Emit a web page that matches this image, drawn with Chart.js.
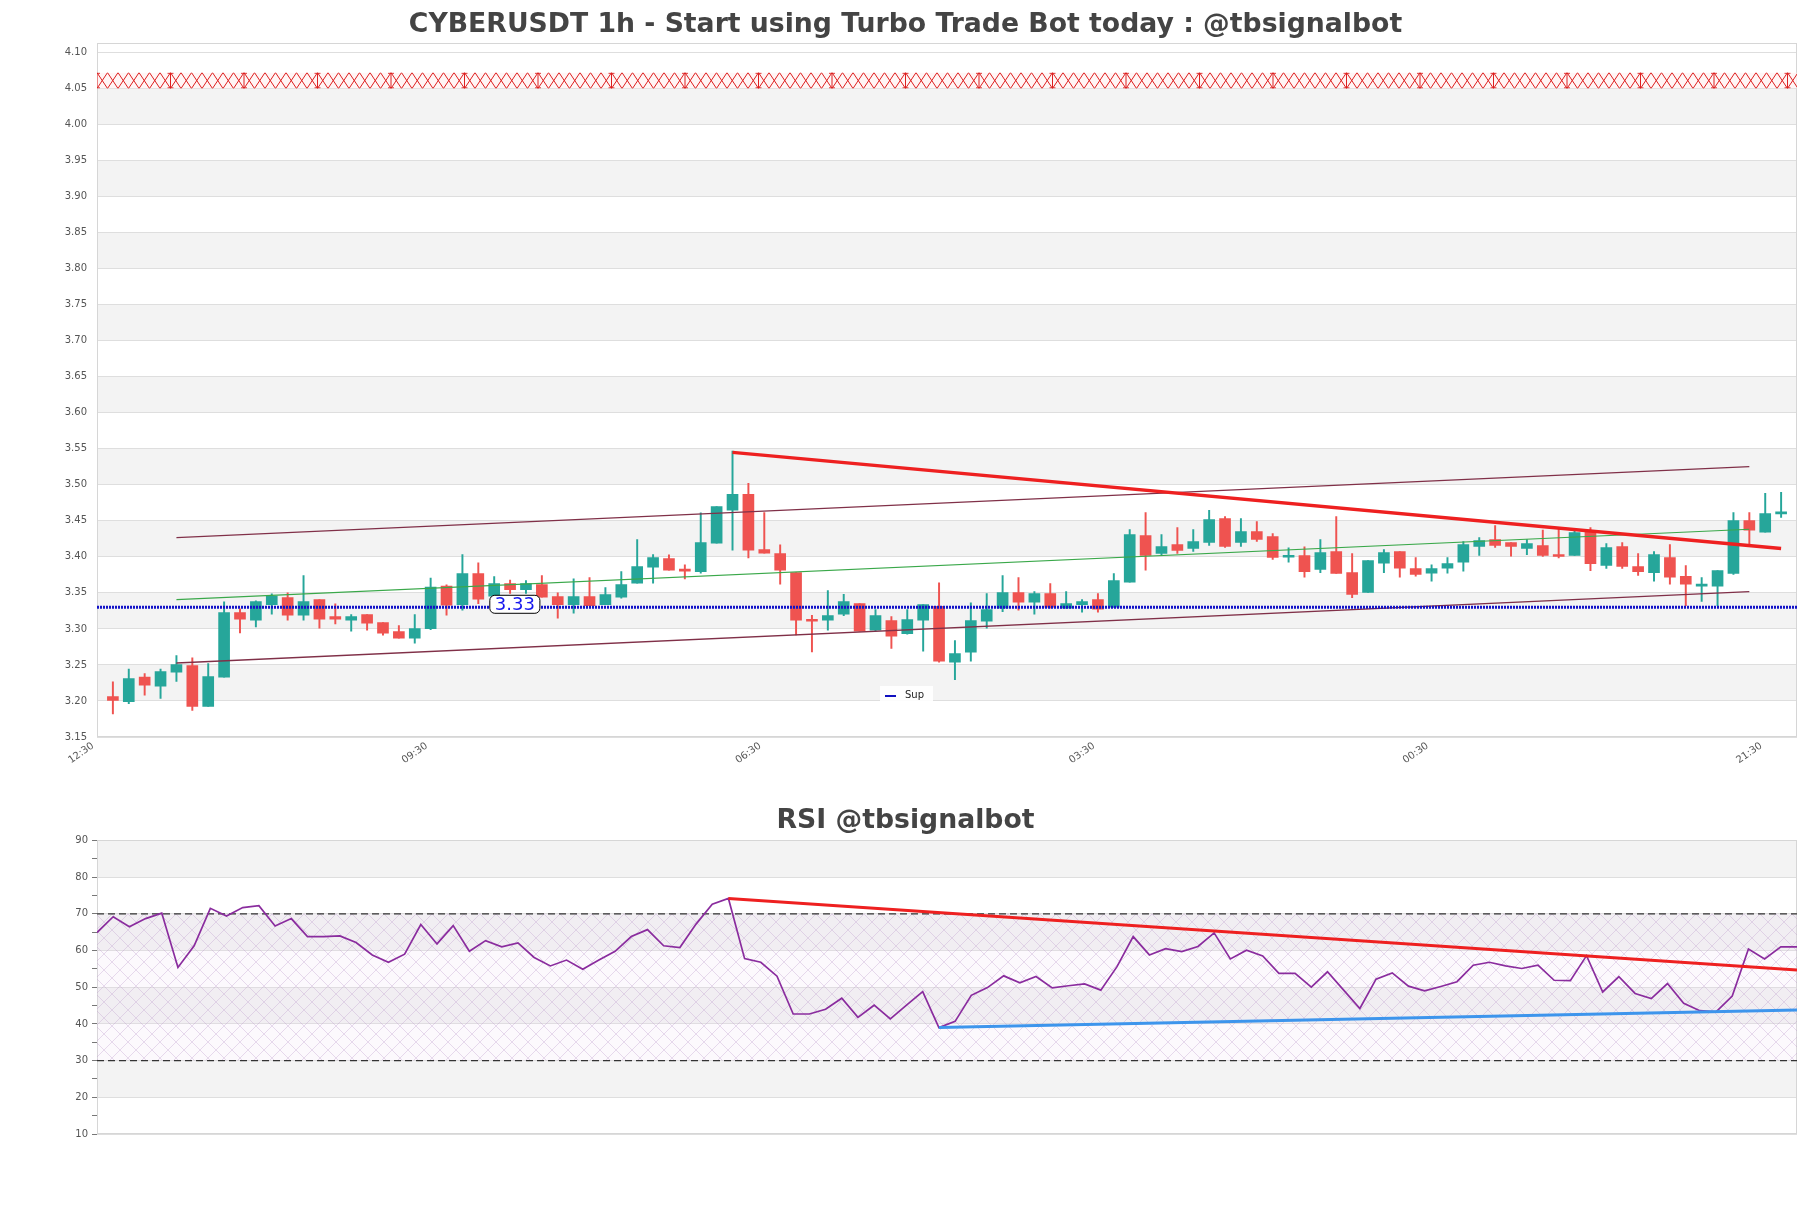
<!DOCTYPE html>
<html><head><meta charset="utf-8">
<script src="https://cdn.jsdelivr.net/npm/chart.js@4.4.1/dist/chart.umd.min.js"></script>
<style>
html,body{margin:0;padding:0;background:#fff;}
#top{position:absolute;left:0;top:0;width:1811px;height:770px;}
#bot{position:absolute;left:0;top:770px;width:1811px;height:438px;}
</style></head><body>
<div id="top"><canvas id="c1"></canvas></div>
<div id="bot"><canvas id="c2"></canvas></div>
<script>
// ---------------- data ----------------
const xTickPos = [-1, 20, 41, 62, 83, 104];
const xTickLabels = ['12:30', '09:30', '06:30', '03:30', '00:30', '21:30'];
const priceTicks = [3.15,3.20,3.25,3.30,3.35,3.40,3.45,3.50,3.55,3.60,3.65,3.70,3.75,3.80,3.85,3.90,3.95,4.00,4.05,4.10];

const opens = [3.206,3.1991,3.2333,3.2204,3.2398,3.2491,3.1926,3.2329,3.3227,3.312,
3.3338,3.3435,3.319,3.3407,3.3171,3.312,3.3199,3.3088,3.2963,3.287,
3.3005,3.3593,3.3338,3.3769,3.3454,3.363,3.3546,3.3616,3.3449,3.3338,
3.3449,3.3338,3.344,3.3634,3.3856,3.3977,3.3824,3.3796,3.419,3.4648,
3.4866,3.4102,3.4046,3.3782,3.313,3.312,3.3204,3.3352,3.2981,3.3116,
3.2935,3.312,3.3315,3.2537,3.2676,3.3106,3.3287,3.3505,3.337,3.3491,
3.3287,3.3338,3.3407,3.3301,3.3648,3.4296,3.4046,3.4171,3.4116,3.4199,
3.4532,3.4199,3.4352,3.4282,3.3995,3.4019,3.3824,3.4074,3.3782,3.3505,
3.3912,3.4074,3.3838,3.3773,3.3843,3.3926,3.4144,3.4241,3.4199,3.4116,
3.4157,3.4032,3.4019,3.4366,3.388,3.4144,3.3866,3.3782,3.3991,3.3731,
3.3593,3.3593,3.3769,3.4505,3.4343,3.4597];
const highs = [3.2264,3.2444,3.238,3.2444,3.263,3.2597,3.2519,3.3375,3.3278,3.3389,
3.3486,3.35,3.3741,3.3407,3.3347,3.3199,3.3199,3.3088,3.3046,3.3199,
3.3704,3.3611,3.4032,3.3917,3.3727,3.3676,3.3671,3.3741,3.35,3.3694,
3.3713,3.3574,3.3796,3.4241,3.4032,3.4028,3.3889,3.4611,3.4699,3.5468,
3.5019,3.4616,3.4167,3.3782,3.319,3.3532,3.3481,3.3352,3.3269,3.3171,
3.3269,3.3338,3.3639,3.2838,3.3361,3.3491,3.3741,3.3713,3.3519,3.363,
3.3519,3.3407,3.3491,3.3769,3.438,3.4616,3.431,3.4407,3.438,3.4644,
3.456,3.4532,3.4491,3.4324,3.4125,3.4139,3.4241,3.456,3.4046,3.3949,
3.4102,3.4074,3.3991,3.3889,3.3991,3.4213,3.4269,3.4435,3.4199,3.4241,
3.437,3.4389,3.437,3.4407,3.4185,3.4199,3.4046,3.4074,3.4171,3.388,
3.3713,3.381,3.4616,3.4616,3.488,3.4894];
const lows = [3.1819,3.1963,3.2079,3.2037,3.2273,3.187,3.1926,3.2329,3.2944,3.3028,
3.3204,3.312,3.312,3.3009,3.3069,3.2968,3.2981,3.2912,3.287,3.2801,
3.2991,3.319,3.3259,3.3352,3.338,3.3491,3.3491,3.344,3.3148,3.3218,
3.3324,3.3338,3.3426,3.3634,3.3634,3.3815,3.3694,3.3773,3.419,3.4093,
3.3986,3.4051,3.362,3.2917,3.2681,3.2981,3.3185,3.2968,3.2968,3.2731,
3.2926,3.269,3.2537,3.2296,3.2551,3.3009,3.3241,3.3259,3.3204,3.3287,
3.3287,3.3231,3.3231,3.3301,3.3648,3.3815,3.4032,3.4046,3.4074,3.4157,
3.413,3.4144,3.4213,3.3963,3.3926,3.3718,3.3782,3.3769,3.3435,3.3505,
3.3782,3.3718,3.3731,3.3662,3.3773,3.3801,3.4019,3.413,3.4009,3.4032,
3.4005,3.3986,3.4019,3.381,3.3838,3.3838,3.3741,3.3662,3.362,3.3324,
3.338,3.3324,3.3755,3.4157,3.4343,3.4546];
const closes = [3.2009,3.231,3.2218,3.2407,3.2505,3.1926,3.2338,3.3227,3.3134,3.338,
3.3454,3.319,3.338,3.3134,3.3134,3.3171,3.3079,3.294,3.287,3.3005,
3.3579,3.3329,3.3769,3.3412,3.363,3.3546,3.363,3.344,3.3338,3.3449,
3.3324,3.3477,3.3616,3.3866,3.3991,3.3815,3.3801,3.4199,3.4699,3.4866,
3.4093,3.4051,3.3815,3.312,3.3106,3.3185,3.338,3.2968,3.3185,3.2898,
3.313,3.3338,3.2551,3.2657,3.3116,3.3269,3.3505,3.337,3.3491,3.3301,
3.3352,3.338,3.3273,3.3671,3.431,3.4019,3.4144,3.4088,3.4213,3.4519,
3.4144,3.4352,3.4241,3.3991,3.4005,3.3796,3.406,3.3769,3.3477,3.3949,
3.406,3.3843,3.3755,3.3838,3.3907,3.4171,3.4227,3.4157,3.4144,3.4185,
3.4019,3.4005,3.4338,3.3907,3.413,3.3866,3.3796,3.4032,3.3718,3.362,
3.3606,3.381,3.4505,3.437,3.4602,3.4606];

const supLevel = 3.33;
const resZone = [4.05, 4.072];
const resTrend = [[39, 3.545], [105, 3.4115]];
const chanUpper = [[4, 3.4268], [103, 3.5253]];
const chanMid = [[4, 3.3407], [103, 3.4383]];
const chanLower = [[4, 3.2527], [103, 3.3518]];

const rsiValues = [64.9,69.2,66.5,68.7,70.2,55.4,61.3,71.5,69.4,71.7,
72.2,66.7,68.7,63.8,63.8,64.0,62.2,58.8,56.8,59.0,
67.1,61.8,66.8,59.8,62.7,61.0,62.1,58.1,55.8,57.4,
54.9,57.4,59.8,63.8,65.7,61.3,60.8,67.2,72.6,74.2,
57.8,56.8,53.0,42.7,42.7,44.0,47.0,41.8,45.1,41.4,
45.1,48.8,39.0,40.7,47.8,49.9,53.1,51.2,52.9,49.8,
50.4,50.9,49.2,55.6,63.8,58.8,60.5,59.7,61.1,64.8,
57.7,60.1,58.5,53.8,53.8,50.0,54.2,49.2,44.2,52.2,
53.9,50.3,49.0,50.2,51.5,56.0,56.8,55.8,55.1,56.0,
51.9,51.8,58.6,48.7,52.9,48.3,46.9,51.0,45.6,43.6,
43.3,47.6,60.4,57.7,61.0,61.0];
const rsiLevels = [70, 30];
const rsiResTrend = [[39, 74.2], [105, 54.7]];
const rsiSupTrend = [[52, 39.0], [105, 43.8]];

// ---------------- helpers ----------------
const FONT = 'DejaVu Sans';
const UP = '#26a69a', DOWN = '#ef5350';
const pts = arr => arr.map(p => ({x: p[0], y: p[1]}));
const candleColors = opens.map((o, i) => closes[i] >= o ? UP : DOWN);
const supLabelAt = 25.3;

const bands = {
  id: 'bands',
  beforeDraw(chart, args, o) {
    const {ctx, chartArea: a, scales: {y}} = chart;
    ctx.save();
    ctx.fillStyle = o.color;
    for (let k = Math.round(y.min / o.step); (k + 1) * o.step <= y.max + 1e-9; k++) {
      if ((k + 1) % 2 === 1) {
        const yt = y.getPixelForValue((k + 1) * o.step), yb = y.getPixelForValue(k * o.step);
        ctx.fillRect(a.left, yt, a.right - a.left, yb - yt);
      }
    }
    ctx.restore();
  }
};
const frame = {
  id: 'frame',
  beforeDatasetsDraw(chart) {
    const {ctx, chartArea: a} = chart;
    ctx.save(); ctx.strokeStyle = '#d6d6d6'; ctx.lineWidth = 1;
    ctx.strokeRect(Math.round(a.left) + 0.5, Math.round(a.top) + 0.5, Math.round(a.width) - 1, Math.round(a.height) - 1);
    ctx.restore();
  }
};
const zone = {
  id: 'zone',
  beforeDatasetsDraw(chart) {
    const {ctx, chartArea: a, scales: {y}} = chart;
    const yt = y.getPixelForValue(resZone[1]), yb = y.getPixelForValue(resZone[0]);
    ctx.save();
    ctx.beginPath(); ctx.rect(a.left, yt, a.width, yb - yt); ctx.clip();
    ctx.fillStyle = 'rgba(255,242,242,0.8)'; ctx.fillRect(a.left, yt, a.width, yb - yt);
    ctx.strokeStyle = '#dd1f1f'; ctx.lineWidth = 1;
    const w = 10.5;
    ctx.beginPath();
    let n = 0;
    for (let x = a.left; x < a.right + w; x += w, n++) {
      ctx.moveTo(x, yt); ctx.lineTo(x + w, yb);
      ctx.moveTo(x + w, yt); ctx.lineTo(x, yb);
      if (n % 7 === 0) {
        ctx.moveTo(x, yt); ctx.lineTo(x, yb);
        ctx.moveTo(x - 3, yt + 0.6); ctx.lineTo(x + 3, yt + 0.6);
        ctx.moveTo(x - 3, yb - 0.6); ctx.lineTo(x + 3, yb - 0.6);
      }
    }
    ctx.stroke(); ctx.restore();
  }
};
const supLabel = {
  id: 'supLabel',
  afterDatasetsDraw(chart) {
    const {ctx, chartArea: a, scales: {x, y}} = chart;
    const cx = x.getPixelForValue(supLabelAt), cy = y.getPixelForValue(supLevel) - 3;
    const text = supLevel.toFixed(2);
    ctx.save();
    ctx.font = '18px "' + FONT + '"';
    const tw = ctx.measureText(text).width;
    const bw = tw + 10, bh = 18;
    ctx.beginPath(); ctx.roundRect(cx - bw / 2, cy - bh / 2, bw, bh, 5);
    ctx.fillStyle = '#fff'; ctx.fill();
    ctx.strokeStyle = '#000'; ctx.lineWidth = 1; ctx.stroke();
    ctx.fillStyle = '#1515ee'; ctx.textAlign = 'center'; ctx.textBaseline = 'middle';
    ctx.fillText(text, cx, cy + 1);
    // legend
    const lx = a.left + 783, ly = a.bottom - 51;
    ctx.fillStyle = 'rgba(255,255,255,0.9)';
    ctx.fillRect(lx, ly, 53, 18);
    ctx.strokeStyle = '#1010c0'; ctx.lineWidth = 2;
    ctx.beginPath(); ctx.moveTo(lx + 5, ly + 10); ctx.lineTo(lx + 16, ly + 10); ctx.stroke();
    ctx.fillStyle = '#222'; ctx.font = '10px "' + FONT + '"'; ctx.textAlign = 'left';
    ctx.fillText('Sup', lx + 25, ly + 9);
    ctx.restore();
  }
};

function hatchPattern() {
  const c = document.createElement('canvas'); c.width = 16; c.height = 16;
  const g = c.getContext('2d');
  g.fillStyle = 'rgba(235,215,240,0.15)'; g.fillRect(0, 0, 16, 16);
  g.strokeStyle = 'rgba(185,150,200,0.42)'; g.lineWidth = 0.8;
  g.beginPath(); g.moveTo(0, 0); g.lineTo(16, 16); g.moveTo(16, 0); g.lineTo(0, 16); g.stroke();
  return g.createPattern(c, 'repeat');
}

Chart.defaults.font.family = FONT;
Chart.defaults.color = '#555';

// ---------------- price chart ----------------
new Chart(document.getElementById('c1'), {
  type: 'bar',
  data: {
    datasets: [
      {type: 'line', data: [{x: -1, y: supLevel}, {x: 106, y: supLevel}], borderColor: '#1212c8', borderWidth: 3, borderDash: [2, 1], pointRadius: 0},
      {type: 'line', data: pts(resTrend), borderColor: '#ee2020', borderWidth: 3.5, pointRadius: 0},
      {type: 'line', data: pts(chanUpper), borderColor: '#803048', borderWidth: 1.3, pointRadius: 0},
      {type: 'line', data: pts(chanMid), borderColor: '#3aa84a', borderWidth: 1.2, pointRadius: 0},
      {type: 'line', data: pts(chanLower), borderColor: '#803048', borderWidth: 1.3, pointRadius: 0},
      {label: 'body', data: opens.map((o, i) => ({x: i, y: [o, closes[i]]})), backgroundColor: candleColors, barThickness: 11, grouped: false, minBarLength: 2},
      {label: 'wick', data: lows.map((l, i) => ({x: i, y: [l, highs[i]]})), backgroundColor: candleColors, barThickness: 1.3, grouped: false}
    ]
  },
  options: {
    responsive: true, maintainAspectRatio: false, animation: false, events: [],
    layout: {padding: {left: 14, right: 14, top: 0, bottom: 0}},
    plugins: {
      legend: {display: false}, tooltip: {enabled: false},
      title: {display: true, text: 'CYBERUSDT 1h - Start using Turbo Trade Bot today : @tbsignalbot', color: '#444',
        font: {size: 26.7, weight: 'bold', family: FONT, lineHeight: 1.2}, padding: {top: 9.5, bottom: 1.9}},
      bands: {step: 0.05, color: '#f3f3f3'}
    },
    scales: {
      x: {
        type: 'linear', min: -1, max: 106, offset: false,
        grid: {display: false, drawTicks: false}, border: {display: false},
        afterBuildTicks: s => { s.ticks = xTickPos.map(v => ({value: v})); },
        afterFit: s => { s.height = 33; },
        ticks: {autoSkip: false, minRotation: 35, maxRotation: 35, padding: 3, labelOffset: -4, color: '#555', font: {size: 10},
          callback: (v, i) => xTickLabels[i]}
      },
      y: {
        type: 'linear', min: 3.15, max: 4.1125,
        afterBuildTicks: s => { s.ticks = priceTicks.map(v => ({value: v})); },
        afterFit: s => { s.width = 83; },
        grid: {color: '#dedede', tickColor: 'rgba(0,0,0,0)', tickLength: 8},
        border: {display: false},
        ticks: {padding: 2, color: '#555', font: {size: 10}, callback: v => Number(v).toFixed(2)}
      }
    }
  },
  plugins: [bands, frame, zone, supLabel]
});

// ---------------- RSI chart ----------------
const hatch = hatchPattern();
new Chart(document.getElementById('c2'), {
  type: 'line',
  data: {
    datasets: [
      {data: pts(rsiResTrend), borderColor: '#ee2020', borderWidth: 3, pointRadius: 0},
      {data: pts(rsiSupTrend), borderColor: '#3d95ec', borderWidth: 3, pointRadius: 0},
      {data: rsiValues.map((v, i) => ({x: i, y: v})), borderColor: '#8a2c9e', borderWidth: 1.7, pointRadius: 0, tension: 0},
      {data: [{x: 0, y: rsiLevels[0]}, {x: 105, y: rsiLevels[0]}], borderColor: '#333', borderWidth: 1.2, borderDash: [7, 4], pointRadius: 0},
      {data: [{x: 0, y: rsiLevels[1]}, {x: 105, y: rsiLevels[1]}], borderColor: '#333', borderWidth: 1.2, borderDash: [7, 4], pointRadius: 0,
        fill: '-1', backgroundColor: hatch}
    ]
  },
  options: {
    responsive: true, maintainAspectRatio: false, animation: false, events: [],
    layout: {padding: {left: 14, right: 14, top: 0, bottom: 74}},
    plugins: {
      legend: {display: false}, tooltip: {enabled: false},
      title: {display: true, text: 'RSI @tbsignalbot', color: '#444',
        font: {size: 26.7, weight: 'bold', family: FONT, lineHeight: 1.2}, padding: {top: 35.5, bottom: 2.9}},
      bands: {step: 10, color: '#f3f3f3'},
      filler: {propagate: false}
    },
    scales: {
      x: {type: 'linear', min: 0, max: 105, display: false},
      y: {
        type: 'linear', min: 10, max: 90,
        afterFit: s => { s.width = 83; },
        grid: {color: c => (c.tick && c.tick.value % 10 === 0) ? '#dedede' : 'rgba(0,0,0,0)', tickColor: '#777', tickLength: 5},
        border: {display: false},
        ticks: {stepSize: 5, padding: 4, color: '#555', font: {size: 10}, callback: v => v % 10 === 0 ? String(v) : ''}
      }
    }
  },
  plugins: [bands, frame]
});
</script>
</body></html>
